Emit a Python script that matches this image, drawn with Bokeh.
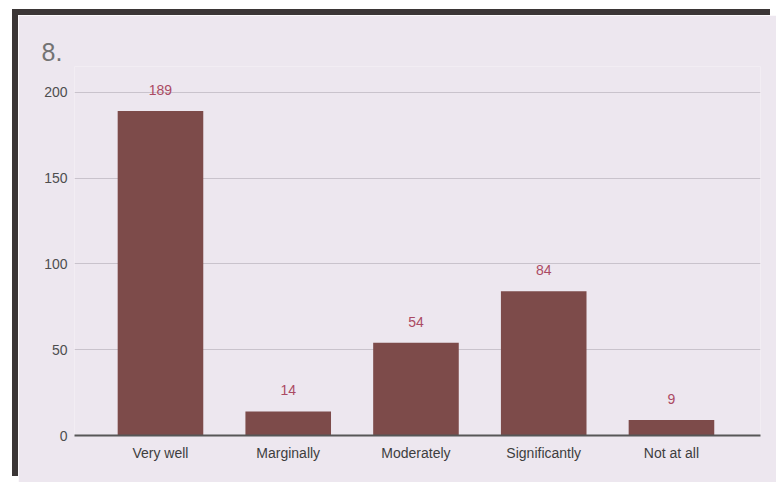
from bokeh.plotting import figure
from bokeh.models import ColumnDataSource, Range1d, FixedTicker
from bokeh.core.properties import value
from bokeh.embed import file_html
from bokeh.resources import INLINE

# ---- data ----
categories = ["Very well", "Marginally", "Moderately", "Significantly", "Not at all"]
counts = [189, 14, 54, 84, 9]
y_ticks = [0, 50, 100, 150, 200]
title_text = "8."

positions = list(range(len(categories)))
source = ColumnDataSource(dict(x=positions, top=counts, label=[str(c) for c in counts]))

BG = "#ede7ef"
FONT = "Liberation Sans"

p = figure(width=758, height=467, output_backend="svg", toolbar_location=None,
           x_range=Range1d(-0.673, len(categories) - 1 + 0.697),
           y_range=Range1d(0, 215),
           min_border_left=56, min_border_right=16,
           min_border_top=51, min_border_bottom=47,
           title=title_text)

p.margin = (15, 0, 0, 18)
p.styles = {"box-shadow": "-6px -6px 0 0 #3b3636"}

p.background_fill_color = BG
p.border_fill_color = BG
p.outline_line_color = None

p.title.text_font = FONT
p.title.text_font_size = "25px"
p.title.text_font_style = "normal"
p.title.text_color = "#737373"
p.title.align = "left"
p.title.offset = -33
p.title.standoff = 11

p.vbar(x="x", top="top", width=0.67, source=source,
       fill_color="#7d4b4a", line_color=None)

p.text(x="x", y="top", text="label", source=source,
       text_align="center", text_baseline="middle", y_offset=-21,
       text_color="#ab4a63", text_font_size="14px", text_font=value(FONT))

# axes
xa = p.xaxis[0]
xa.ticker = FixedTicker(ticks=positions)
xa.major_label_overrides = {i: c for i, c in zip(positions, categories)}
xa.axis_line_color = "#575757"
xa.axis_line_width = 2
xa.major_tick_line_color = None
xa.minor_tick_line_color = None
xa.major_tick_out = 0
xa.major_tick_in = 0
xa.major_label_text_font = FONT
xa.major_label_text_font_size = "14px"
xa.major_label_text_color = "#3e3e3e"
xa.major_label_standoff = 9

ya = p.yaxis[0]
ya.ticker = FixedTicker(ticks=y_ticks)
ya.axis_line_color = None
ya.major_tick_line_color = None
ya.minor_tick_line_color = None
ya.major_tick_out = 0
ya.major_tick_in = 0
ya.major_label_text_font = FONT
ya.major_label_text_font_size = "14px"
ya.major_label_text_color = "#4e4e4e"
ya.major_label_standoff = 7

p.xgrid.grid_line_color = None
p.ygrid.grid_line_color = "#c9c3cc"
p.ygrid.grid_line_width = 1

open("out.html", "w").write(file_html(p, INLINE))
